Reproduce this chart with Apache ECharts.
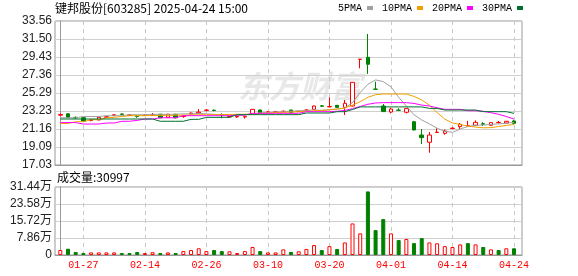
<!DOCTYPE html>
<html><head><meta charset="utf-8">
<script src="https://cdn.jsdelivr.net/npm/echarts/dist/echarts.min.js"></script>
<style>html,body{margin:0;padding:0;background:#fff}#c{width:578px;height:276px}</style>
</head><body><div id="c"></div>
<script>
const dates = ['01-22','01-23','01-24','01-27','02-05','02-06','02-07','02-10','02-11','02-12','02-13','02-14','02-17','02-18','02-19','02-20','02-21','02-24','02-25','02-26','02-27','02-28','03-03','03-04','03-05','03-06','03-07','03-10','03-11','03-12','03-13','03-14','03-17','03-18','03-19','03-20','03-21','03-24','03-25','03-26','03-27','03-28','03-31','04-01','04-02','04-03','04-07','04-08','04-09','04-10','04-11','04-14','04-15','04-16','04-17','04-18','04-21','04-22','04-23','04-24'];
const xLabelIdx = [3,11,19,27,35,43,51,59];

const open  = [22.75,22.90,22.50,22.46,22.15,22.20,22.50,22.70,22.88,22.72,22.62,22.70,22.75,22.85,22.50,22.85,22.60,22.90,23.00,23.30,23.32,22.82,22.55,22.55,22.55,22.90,23.34,23.08,23.10,23.15,23.34,23.15,23.30,23.42,23.82,23.70,23.88,23.65,23.80,29.16,29.39,25.74,23.80,23.11,23.33,23.08,22.00,20.47,19.64,20.76,20.67,21.22,21.43,21.50,21.59,21.76,21.59,21.90,21.85,22.08];
const close = [22.82,22.50,22.45,22.08,22.20,22.50,22.57,22.80,22.85,22.78,22.60,22.78,22.80,22.45,22.85,22.45,22.65,23.00,23.10,23.34,23.28,22.75,22.60,22.60,22.58,23.42,23.00,23.12,23.12,23.20,23.05,23.20,23.34,23.80,23.78,23.75,23.65,24.11,26.52,29.17,28.59,25.73,23.16,23.46,23.31,23.50,21.05,20.17,20.47,20.80,20.93,21.26,21.70,21.53,21.93,21.72,21.89,21.92,22.05,21.82];
const low   = [22.65,22.45,22.30,22.00,22.05,22.15,22.45,22.65,22.75,22.65,22.45,22.65,22.70,22.40,22.45,22.40,22.45,22.85,22.95,23.20,23.20,22.40,22.50,22.45,22.35,22.85,22.95,23.00,23.05,23.10,23.00,23.12,23.20,23.40,23.70,23.65,23.60,22.77,23.75,28.13,27.48,25.73,23.16,22.95,23.31,22.95,21.00,19.44,18.44,20.74,20.50,21.12,21.16,21.48,21.54,21.50,21.55,21.78,21.83,21.75];
const high  = [22.95,23.00,22.60,22.55,22.30,22.55,22.65,22.85,22.95,22.85,22.75,22.85,23.00,22.90,22.90,22.90,22.75,23.05,23.45,23.45,23.40,22.96,22.65,22.62,22.65,23.45,23.40,23.20,23.18,23.30,23.36,23.25,23.45,23.85,23.90,24.80,23.92,24.49,26.52,29.17,32.07,26.60,24.03,23.60,23.54,23.55,22.10,21.16,20.82,21.24,21.10,21.36,21.85,22.10,22.15,21.95,21.92,22.08,22.08,22.18];

const ma5  = [22.45,22.45,22.45,22.60,22.60,22.60,22.69,22.69,22.69,22.80,22.80,22.80,22.85,22.85,22.85,22.85,22.90,22.90,22.95,22.90,22.85,22.80,22.75,22.75,22.80,22.90,23.00,23.05,23.10,23.15,23.20,23.25,23.30,23.35,23.30,23.40,23.45,23.55,24.20,25.35,26.30,26.80,26.60,26.00,24.80,23.80,22.80,22.20,21.75,21.25,20.90,20.78,21.16,21.45,21.60,21.62,21.68,21.75,21.82,21.93];
const ma10 = [21.80,21.80,22.00,22.00,22.23,22.23,22.45,22.50,22.60,22.69,22.69,22.70,22.70,22.72,22.72,22.75,22.75,22.78,22.80,22.80,22.80,22.82,22.82,22.85,22.85,22.90,22.95,23.00,23.05,23.08,23.10,23.15,23.20,23.25,23.30,23.35,23.45,23.57,23.90,24.30,24.80,25.10,25.18,25.18,25.18,25.18,24.90,24.50,23.90,23.05,22.30,21.85,21.68,21.50,21.38,21.30,21.32,21.45,21.57,21.68];
const ma20 = [21.90,21.90,21.90,21.73,21.73,21.73,21.85,21.85,22.05,22.05,22.15,22.31,22.31,22.45,22.45,22.45,22.69,22.69,22.69,22.69,22.69,22.69,22.69,22.75,22.75,22.96,22.96,22.96,22.96,22.96,22.96,22.96,23.15,23.15,23.15,23.15,23.20,23.30,23.50,23.75,24.00,24.15,24.19,24.19,24.19,24.19,24.10,23.91,23.80,23.60,23.42,23.42,23.42,23.26,23.26,23.20,23.03,22.85,22.60,22.30];
const ma30 = [22.31,22.31,22.31,22.31,22.31,22.31,22.31,22.31,22.31,22.31,22.31,22.31,22.31,22.05,22.05,22.05,22.05,22.27,22.27,22.50,22.50,22.50,22.50,22.81,22.81,22.81,22.81,22.81,22.81,22.81,22.81,22.81,23.00,23.00,23.00,23.00,23.15,23.15,23.40,23.70,23.70,23.70,23.70,23.70,23.70,23.70,23.70,23.70,23.53,23.53,23.34,23.34,23.34,23.34,23.34,23.15,23.15,23.15,23.15,22.96];

const vol = [23000,29000,14000,9200,12000,12000,12000,12000,9000,9000,14000,9000,13000,9000,12000,9000,18000,23000,31000,18000,23000,18000,17000,9000,18000,37000,18000,12000,12000,26000,14000,17000,28000,46000,23000,41000,28000,58000,146000,100000,294000,115000,166000,100000,69000,74000,55000,78000,58000,54000,41000,37000,49000,55000,49000,37000,26000,23000,31000,30997];
const volUp = [1,0,0,0,1,1,1,1,0,0,0,1,1,0,1,0,1,1,1,1,0,0,1,1,1,1,0,1,1,1,0,1,1,1,0,1,0,1,1,1,0,0,0,1,0,1,0,0,1,1,1,1,1,0,1,0,1,0,1,0];

const yTickLabels = ['17.03','19.09','21.16','23.23','25.29','27.36','29.43','31.50','33.56'];
const vTickLabels = ['0','7.86万','15.72万','23.58万','31.44万'];
const maNames = ['5PMA','10PMA','20PMA','30PMA'];

const yMin = 17.03, yMax = 33.56, yStep = (yMax - yMin) / 8;
const vMax = 314400, vStep = vMax / 4;
const xMin = -0.69, xMax = 60.04;

const RED = '#ff0000', GREEN = '#008000';
const maColors = ['#a0a0a0', '#f0a000', '#ff00ff', '#00702e'];
const maData = [ma5, ma10, ma20, ma30];

const chart = echarts.init(document.getElementById('c'), null, {renderer: 'canvas'});
const monoFont = "'Liberation Mono'";
const sansFont = "'Liberation Sans','Noto Sans CJK SC'";

function xAxisBase(gi, showLabel) {
  return {
    gridIndex: gi, type: 'value', min: xMin, max: xMax,
    axisLine: {show: true, lineStyle: {color: '#999'}},
    axisTick: {show: false, customValues: xLabelIdx},
    axisLabel: {show: showLabel, customValues: xLabelIdx, formatter: v => dates[Math.round(v)],
      color: RED, fontFamily: monoFont, fontSize: 10, margin: 5},
    splitLine: {show: true, lineStyle: {color: '#c8c8c8', type: [4, 4]}}
  };
}

const option = {
  animation: false,
  backgroundColor: '#fff',
  title: [
    {text: '键邦股份[603285] 2025-04-24 15:00', left: 55, top: 2, padding: 0,
     textStyle: {fontSize: 12, fontWeight: 'normal', color: '#000', fontFamily: "'Noto Sans CJK SC'"}},
    {text: '成交量:' + vol[vol.length - 1], left: 57, top: 171, padding: 0,
     textStyle: {fontSize: 12, fontWeight: 'normal', color: '#000', fontFamily: "'Noto Sans CJK SC'"}}
  ],
  legend: {
    left: 338, top: 3, padding: 0, align: 'right', icon: 'rect', itemWidth: 6, itemHeight: 4, itemGap: 9,
    textStyle: {fontFamily: monoFont, fontSize: 10, color: '#000'},
    data: maNames
  },
  graphic: [{
    type: 'text', left: 238, top: 71, z: -10, silent: true,
    style: {text: '东方财富', fontSize: 31, fontWeight: 'bold', fontStyle: 'italic', fill: '#e8e8e8', fontFamily: "'Noto Sans CJK SC'"}
  }],
  grid: [
    {left: 55, top: 21, width: 467, height: 144, show: true, borderColor: '#999', borderWidth: 1},
    {left: 55, top: 187, width: 467, height: 68, show: true, borderColor: '#999', borderWidth: 1}
  ],
  xAxis: [xAxisBase(0, false), xAxisBase(1, true)],
  yAxis: [
    {gridIndex: 0, type: 'value', min: yMin, max: yMax, interval: yStep,
     axisLine: {show: true, lineStyle: {color: '#999'}}, axisTick: {show: false},
     splitLine: {lineStyle: {color: '#d0d0d0'}},
     axisLabel: {formatter: v => yTickLabels[Math.round((v - yMin) / yStep)], color: '#222', fontSize: 12, fontFamily: sansFont, margin: 3}},
    {gridIndex: 1, type: 'value', min: 0, max: vMax, interval: vStep,
     axisLine: {show: true, lineStyle: {color: '#999'}}, axisTick: {show: false},
     splitLine: {lineStyle: {color: '#d0d0d0'}},
     axisLabel: {formatter: v => vTickLabels[Math.round(v / vStep)], color: '#222', fontSize: 12, fontFamily: sansFont, margin: 3}}
  ],
  series: [
    {type: 'candlestick', name: 'K', xAxisIndex: 0, yAxisIndex: 0, barWidth: 4,
     data: open.map((o, i) => [i, o, close[i], low[i], high[i]]),
     itemStyle: {color: '#fff', color0: GREEN, borderColor: RED, borderColor0: GREEN, borderWidth: 1}},
    ...maNames.map((n, k) => ({
      type: 'line', name: n, xAxisIndex: 0, yAxisIndex: 0, symbol: 'none', showSymbol: false,
      data: maData[k].map((v, i) => [i, v]),
      lineStyle: {width: 1, color: maColors[k]}, itemStyle: {color: maColors[k]}
    })),
    {type: 'bar', name: 'VOL', xAxisIndex: 1, yAxisIndex: 1, barWidth: 4,
     data: vol.map((v, i) => ({value: [i, v], itemStyle: volUp[i]
       ? {color: '#fff', borderColor: RED, borderWidth: 1}
       : {color: GREEN, borderColor: GREEN, borderWidth: 1}}))}
  ]
};
chart.setOption(option);
</script></body></html>
